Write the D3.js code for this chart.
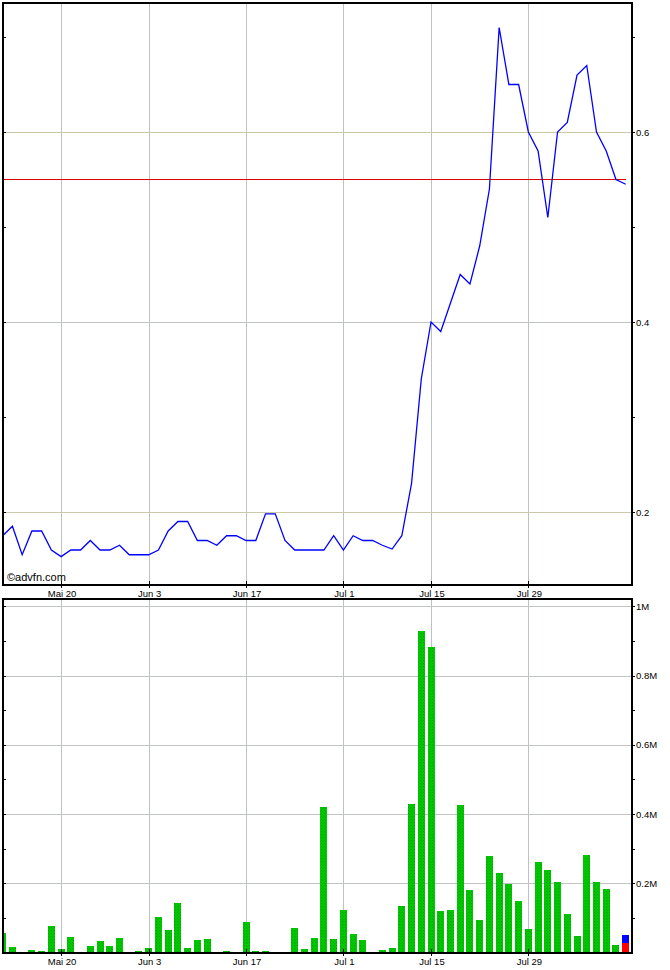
<!DOCTYPE html>
<html>
<head>
<meta charset="utf-8">
<script src="https://cdn.jsdelivr.net/npm/d3@7/dist/d3.min.js"></script>
<style>
  html, body { margin: 0; padding: 0; background: #fff; }
  svg { display: block; }
  text { font-family: "Liberation Sans", Arial, sans-serif; fill: #000; }
</style>
</head>
<body>
<svg id="chart" width="670" height="970"></svg>
<script>
// ---- data (one entry per trading day) ----
const prices = [
  0.175, 0.185, 0.155, 0.18, 0.18, 0.16, 0.153, 0.16, 0.16, 0.17,
  0.16, 0.16, 0.165, 0.155, 0.155, 0.155, 0.16, 0.18, 0.19, 0.19,
  0.17, 0.17, 0.165, 0.175, 0.175, 0.17, 0.17, 0.198, 0.198, 0.17,
  0.16, 0.16, 0.16, 0.16, 0.175, 0.16, 0.175, 0.17, 0.17, 0.165,
  0.161, 0.175, 0.23, 0.34, 0.40, 0.39, 0.42, 0.45, 0.44, 0.48,
  0.54, 0.71, 0.65, 0.65, 0.60, 0.58, 0.51, 0.60, 0.61, 0.66,
  0.67, 0.60, 0.58, 0.55, 0.545
];
const volumes = [
  57000, 15000, 0, 7000, 5000, 76000, 10000, 44000, 0, 18000,
  33000, 18000, 41000, 0, 4000, 12000, 102000, 64000, 142000, 12000,
  36000, 38000, 0, 4000, 0, 88000, 4000, 4000, 0, 0,
  70000, 10000, 41000, 420000, 38000, 122000, 53000, 36000, 0, 7000,
  12000, 134000, 430000, 928000, 882000, 120000, 122000, 427000, 180000, 93000,
  278000, 229000, 197000, 148000, 67000, 261000, 238000, 203000, 111000, 47000,
  281000, 203000, 183000, 21000, 50000
];
// last (current) day volume split: [sell part (red, bottom), buy part (blue, top)]
const lastSplit = [27000, 23000];
const refPrice = 0.55;
const dateTickIndex = [6, 15, 25, 35, 44, 54];
const dateTickLabels = ["Mai 20", "Jun 3", "Jun 17", "Jul 1", "Jul 15", "Jul 29"];
const priceTicks = [0.2, 0.4, 0.6];
const priceTickLabels = ["0.2", "0.4", "0.6"];
const priceMinorTicks = [0.3, 0.5, 0.7];
const volTicks = [200000, 400000, 600000, 800000, 1000000];
const volTickLabels = ["0.2M", "0.4M", "0.6M", "0.8M", "1M"];
const volMinorTicks = [100000, 300000, 500000, 700000, 900000];

// ---- layout ----
const svg = d3.select("#chart");
const L = 3, R = 632;
const P = {top: 3, bottom: 585};
const V = {top: 599, bottom: 953};

const idx = prices.map((d, i) => i);
const x = d3.scalePoint().domain(idx).range([2.7, 625.7]);
const y = d3.scaleLinear().domain([0.2, 0.6]).range([512, 132]);
const yv = d3.scaleLinear().domain([0, 1000000]).range([952.5, 606.3]);

const defs = svg.append("defs");
const pat = defs.append("pattern").attr("id", "hatch").attr("width", 3).attr("height", 3)
  .attr("patternUnits", "userSpaceOnUse");
pat.append("rect").attr("width", 3).attr("height", 3).attr("fill", "#00c800");
pat.append("rect").attr("x", 0).attr("y", 0).attr("width", 1).attr("height", 1).attr("fill", "#00a400");
pat.append("rect").attr("x", 1).attr("y", 1).attr("width", 1).attr("height", 1).attr("fill", "#00b400");
defs.append("clipPath").attr("id", "clipP").append("rect")
  .attr("x", L).attr("y", P.top).attr("width", R - L).attr("height", P.bottom - P.top);
defs.append("clipPath").attr("id", "clipV").append("rect")
  .attr("x", L).attr("y", V.top).attr("width", R - L).attr("height", V.bottom - V.top);

const vGridColor = "#bcc2c2";
// ---- price panel ----
const gp = svg.append("g");
gp.selectAll(".vg").data(dateTickIndex).join("line")
  .attr("x1", d => Math.round(x(d)) + 0.5).attr("x2", d => Math.round(x(d)) + 0.5)
  .attr("y1", P.top).attr("y2", P.bottom)
  .attr("stroke", vGridColor).attr("shape-rendering", "crispEdges");
gp.selectAll(".hg").data(priceTicks).join("line")
  .attr("x1", L).attr("x2", R)
  .attr("y1", d => Math.round(y(d)) + 0.5).attr("y2", d => Math.round(y(d)) + 0.5)
  .attr("stroke", (d, i) => i === 1 ? "#c0c4c4" : "#cacaa8")
  .attr("shape-rendering", "crispEdges");
gp.append("line")
  .attr("x1", L).attr("x2", x(idx.length - 1))
  .attr("y1", Math.round(y(refPrice)) + 0.5).attr("y2", Math.round(y(refPrice)) + 0.5)
  .attr("stroke", "#e00000").attr("stroke-width", 1).attr("shape-rendering", "crispEdges");
gp.append("path").datum(prices)
  .attr("clip-path", "url(#clipP)")
  .attr("d", d3.line().x((d, i) => x(i)).y(d => y(d)))
  .attr("fill", "none").attr("stroke", "#0000ff").attr("stroke-width", 1.3);
gp.append("rect").attr("x", L).attr("y", P.top).attr("width", R - L).attr("height", P.bottom - P.top)
  .attr("fill", "none").attr("stroke", "#000").attr("stroke-width", 2);
gp.selectAll(".rt").data(priceTicks.concat(priceMinorTicks)).join("line")
  .attr("x1", R).attr("x2", R + 3)
  .attr("y1", d => Math.round(y(d)) + 0.5).attr("y2", d => Math.round(y(d)) + 0.5)
  .attr("stroke", "#000").attr("shape-rendering", "crispEdges");
gp.selectAll(".lt").data(priceTicks.concat(priceMinorTicks)).join("line")
  .attr("x1", L).attr("x2", L + 3)
  .attr("y1", d => Math.round(y(d)) + 0.5).attr("y2", d => Math.round(y(d)) + 0.5)
  .attr("stroke", "#000").attr("shape-rendering", "crispEdges");
gp.selectAll(".rl").data(priceTicks).join("text")
  .attr("x", R + 4).attr("y", d => y(d) + 3.5)
  .attr("font-size", "9.5px").text((d, i) => priceTickLabels[i]);
gp.selectAll(".bt").data(dateTickIndex).join("line")
  .attr("x1", d => Math.round(x(d)) + 0.5).attr("x2", d => Math.round(x(d)) + 0.5)
  .attr("y1", P.bottom - 4).attr("y2", P.bottom + 3)
  .attr("stroke", "#000").attr("shape-rendering", "crispEdges");
gp.selectAll(".bl").data(dateTickIndex).join("text")
  .attr("x", d => x(d) + 1).attr("y", 597)
  .attr("text-anchor", "middle").attr("font-size", "9.5px")
  .text((d, i) => dateTickLabels[i]);
gp.append("text").attr("x", 7).attr("y", 581).attr("font-size", "11px").attr("fill", "#222")
  .text("©advfn.com");

// ---- volume panel ----
const gv = svg.append("g");
gv.selectAll(".vg").data(dateTickIndex).join("line")
  .attr("x1", d => Math.round(x(d)) + 0.5).attr("x2", d => Math.round(x(d)) + 0.5)
  .attr("y1", V.top).attr("y2", V.bottom)
  .attr("stroke", vGridColor).attr("shape-rendering", "crispEdges");
gv.selectAll(".hg").data(volTicks).join("line")
  .attr("x1", L).attr("x2", R)
  .attr("y1", d => Math.round(yv(d)) + 0.5).attr("y2", d => Math.round(yv(d)) + 0.5)
  .attr("stroke", "#c0c4c4").attr("shape-rendering", "crispEdges");
const bw = 7;
const barData = volumes.slice(0, volumes.length - 1);
gv.append("g").attr("clip-path", "url(#clipV)")
  .selectAll("rect").data(barData).join("rect")
  .attr("x", (d, i) => Math.round(x(i) - bw / 2))
  .attr("width", bw)
  .attr("y", d => Math.round(yv(d)))
  .attr("height", d => Math.max(0, Math.round(yv(0)) - Math.round(yv(d))))
  .attr("fill", "url(#hatch)")
  .attr("shape-rendering", "crispEdges");
const li = volumes.length - 1;
const lastG = gv.append("g").attr("clip-path", "url(#clipV)");
lastG.append("rect")
  .attr("x", Math.round(x(li) - bw / 2)).attr("width", bw)
  .attr("y", Math.round(yv(lastSplit[0])))
  .attr("height", Math.round(yv(0)) - Math.round(yv(lastSplit[0])))
  .attr("fill", "#ff0000").attr("shape-rendering", "crispEdges");
lastG.append("rect")
  .attr("x", Math.round(x(li) - bw / 2)).attr("width", bw)
  .attr("y", Math.round(yv(lastSplit[0] + lastSplit[1])))
  .attr("height", Math.round(yv(lastSplit[0])) - Math.round(yv(lastSplit[0] + lastSplit[1])))
  .attr("fill", "#0000ff").attr("shape-rendering", "crispEdges");
gv.append("rect").attr("x", L).attr("y", V.top).attr("width", R - L).attr("height", V.bottom - V.top)
  .attr("fill", "none").attr("stroke", "#000").attr("stroke-width", 2);
gv.selectAll(".rt").data(volTicks.concat(volMinorTicks)).join("line")
  .attr("x1", R).attr("x2", R + 3)
  .attr("y1", d => Math.round(yv(d)) + 0.5).attr("y2", d => Math.round(yv(d)) + 0.5)
  .attr("stroke", "#000").attr("shape-rendering", "crispEdges");
gv.selectAll(".lt").data(volTicks.concat(volMinorTicks)).join("line")
  .attr("x1", L).attr("x2", L + 3)
  .attr("y1", d => Math.round(yv(d)) + 0.5).attr("y2", d => Math.round(yv(d)) + 0.5)
  .attr("stroke", "#000").attr("shape-rendering", "crispEdges");
gv.selectAll(".rl").data(volTicks).join("text")
  .attr("x", R + 4).attr("y", d => yv(d) + 3.5)
  .attr("font-size", "9.5px").text((d, i) => volTickLabels[i]);
gv.selectAll(".bt").data(dateTickIndex).join("line")
  .attr("x1", d => Math.round(x(d)) + 0.5).attr("x2", d => Math.round(x(d)) + 0.5)
  .attr("y1", V.bottom - 4).attr("y2", V.bottom + 3)
  .attr("stroke", "#000").attr("shape-rendering", "crispEdges");
gv.selectAll(".bl").data(dateTickIndex).join("text")
  .attr("x", d => x(d) + 1).attr("y", 965)
  .attr("text-anchor", "middle").attr("font-size", "9.5px")
  .text((d, i) => dateTickLabels[i]);
</script>
</body>
</html>
